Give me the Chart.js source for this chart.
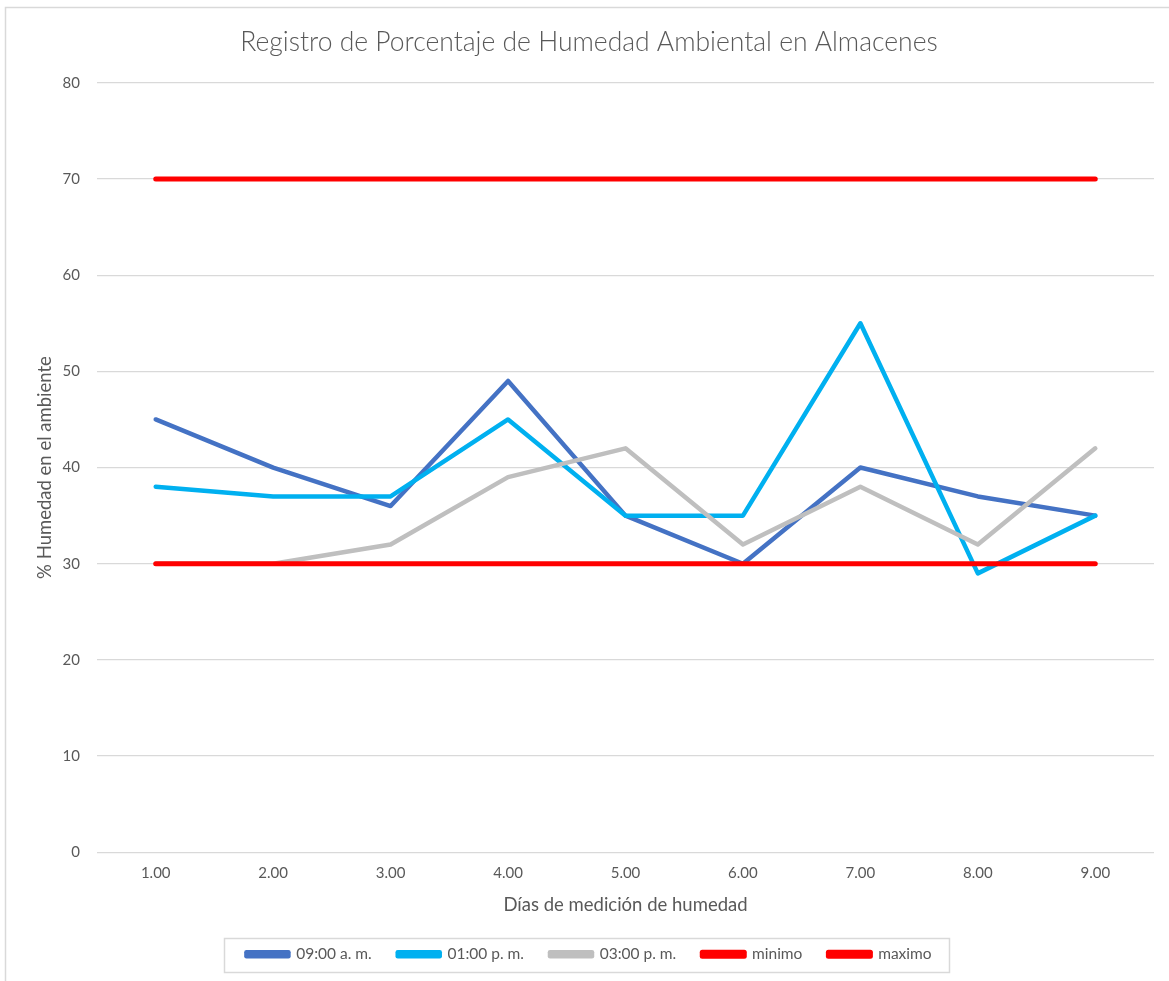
<!DOCTYPE html>
<html>
<head>
<meta charset="utf-8">
<script src="https://cdn.jsdelivr.net/npm/chart.js@4/dist/chart.umd.min.js"></script>
<style>
  html, body { margin: 0; padding: 0; background: #fff; }
  #wrap { width: 1169px; height: 981px; position: relative; }
</style>
</head>
<body>
<div id="wrap"><canvas id="c" width="1169" height="981"></canvas></div>
<script>
// Días de medición
const dias = ['1.00', '2.00', '3.00', '4.00', '5.00', '6.00', '7.00', '8.00', '9.00'];

// Humedad (%) por hora de lectura
const h0900am = [45, 40, 36, 49, 35, 30, 40, 37, 35];
const h0100pm = [38, 37, 37, 45, 35, 35, 55, 29, 35];
const h0300pm = [30, 30, 32, 39, 42, 32, 38, 32, 42];

// Límites permitidos
const minimo = [30, 30, 30, 30, 30, 30, 30, 30, 30];
const maximo = [70, 70, 70, 70, 70, 70, 70, 70, 70];

const yTicks = [0, 10, 20, 30, 40, 50, 60, 70, 80];

const FONT = 'Lato, "Open Sans", sans-serif';
const TXT = '#595959';

// Outer frame of the chart object
const framePlugin = {
  id: 'frame',
  beforeDraw(chart) {
    const ctx = chart.ctx;
    ctx.save();
    ctx.fillStyle = '#fff';
    ctx.fillRect(0, 0, chart.width, chart.height);
    ctx.strokeStyle = '#D9D9D9';
    ctx.lineWidth = 1.5;
    ctx.beginPath();
    ctx.moveTo(5.5, chart.height);
    ctx.lineTo(5.5, 7.5);
    ctx.lineTo(chart.width, 7.5);
    ctx.stroke();
    ctx.restore();
  }
};

// Box around the legend items
const legendBoxPlugin = {
  id: 'legendBox',
  afterDraw(chart) {
    const lg = chart.legend;
    if (!lg || !lg.legendHitBoxes || !lg.legendHitBoxes.length) return;
    const boxes = lg.legendHitBoxes;
    let l = Infinity, r = -Infinity, t = Infinity, b = -Infinity;
    boxes.forEach(h => {
      l = Math.min(l, h.left); r = Math.max(r, h.left + h.width);
      t = Math.min(t, h.top); b = Math.max(b, h.top + h.height);
    });
    const ctx = chart.ctx;
    ctx.save();
    ctx.strokeStyle = '#D9D9D9';
    ctx.lineWidth = 1.5;
    ctx.strokeRect(Math.round(l - 22) + 0.5, Math.round(t - 9) + 0.5,
                   Math.round(r - l + 40), Math.round(b - t + 18));
    ctx.restore();
  }
};

const mk = (label, data, color, width, order) => ({
  label, data,
  borderColor: color, backgroundColor: color,
  borderWidth: width, pointRadius: 0, pointHoverRadius: 0,
  tension: 0, fill: false, order,
  borderCapStyle: 'round', borderJoinStyle: 'round'
});

new Chart(document.getElementById('c'), {
  type: 'line',
  data: {
    labels: dias,
    datasets: [
      mk('09:00 a. m.', h0900am, '#4472C4', 4.5, 4),
      mk('01:00 p. m.', h0100pm, '#00B0F0', 4.5, 3),
      mk('03:00 p. m.', h0300pm, '#BFBFBF', 4.5, 2),
      mk('minimo', minimo, '#FF0000', 5, 1),
      mk('maximo', maximo, '#FF0000', 5, 0)
    ]
  },
  options: {
    responsive: false,
    animation: false,
    devicePixelRatio: 1,
    layout: { padding: { top: 14, left: 24, right: 15, bottom: 9 } },
    plugins: {
      title: {
        display: true,
        text: 'Registro de Porcentaje de Humedad Ambiental en Almacenes',
        color: TXT,
        font: { family: FONT, size: 26.5, weight: 300 },
        padding: { top: 13, bottom: 24 }
      },
      legend: {
        position: 'bottom',
        align: 'center',
        labels: {
          color: TXT,
          font: { family: FONT, size: 15.5 },
          boxWidth: 42,
          boxHeight: 4,
          padding: 26,
          sort: (a, b) => a.datasetIndex - b.datasetIndex
        }
      },
      tooltip: { enabled: false }
    },
    scales: {
      x: {
        offset: true,
        grid: { display: false, drawTicks: false },
        border: { display: false },
        ticks: { color: TXT, font: { family: FONT, size: 15 }, padding: 12, maxRotation: 0 },
        title: {
          display: true,
          text: 'Días de medición de humedad',
          color: TXT,
          font: { family: FONT, size: 18.5 },
          padding: { top: 0, bottom: 4 }
        }
      },
      y: {
        min: 0, max: 80,
        afterBuildTicks(scale) { scale.ticks = yTicks.map(v => ({ value: v })); },
        afterFit(scale) { scale.width = 73; },
        grid: { color: '#D9D9D9', lineWidth: 1.3, drawTicks: false },
        border: { display: false },
        ticks: { color: TXT, font: { family: FONT, size: 15 }, padding: 17 },
        title: {
          display: true,
          text: '% Humedad en el ambiente',
          color: TXT,
          font: { family: FONT, size: 18.5 },
          padding: { top: 10, bottom: 6 }
        }
      }
    }
  },
  plugins: [framePlugin, legendBoxPlugin]
});
</script>
</body>
</html>
